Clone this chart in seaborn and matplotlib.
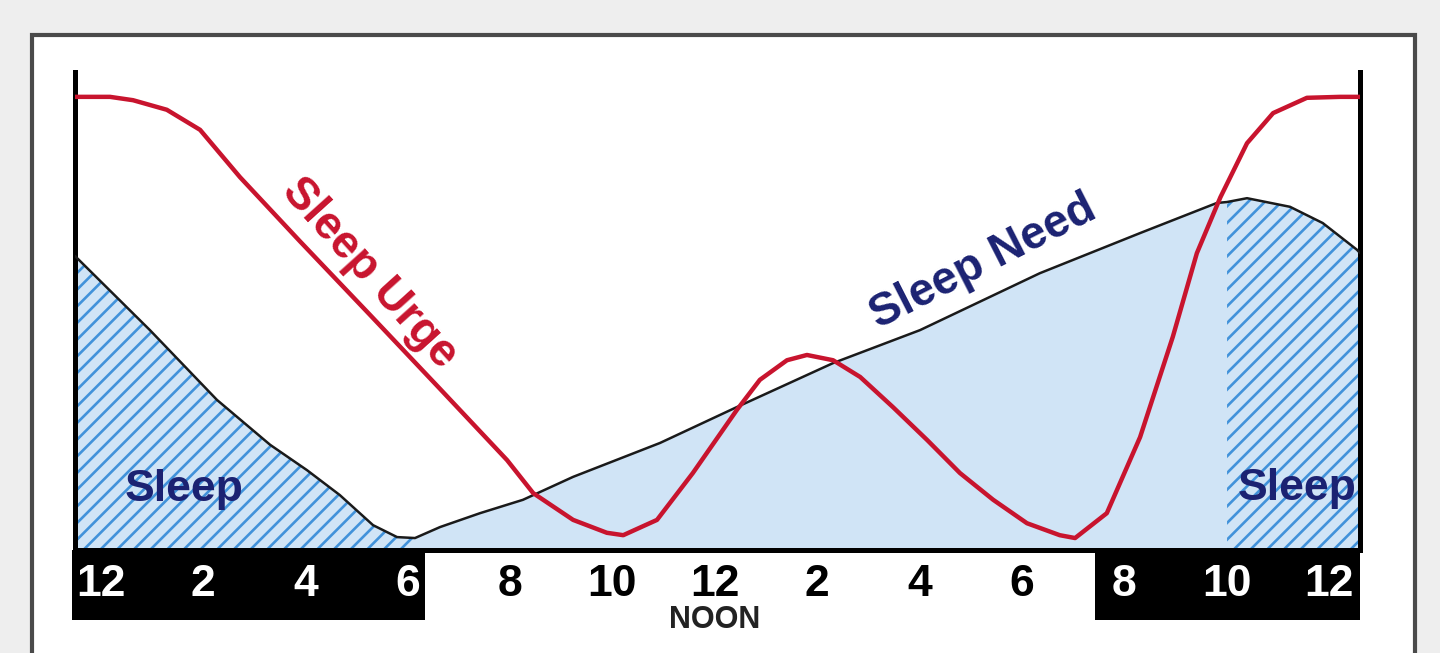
import numpy as np
import matplotlib
matplotlib.use("Agg")
import matplotlib.pyplot as plt
import seaborn as sns
from matplotlib.patches import Rectangle

# data: hours from midnight, level 0-100
urge_h = [-0.504, 0.18, 0.63, 1.29, 1.94, 2.72, 3.89, 5.26, 6.63, 7.94, 8.45, 9.23, 9.89,
          10.21, 10.87, 11.57, 12.43, 12.88, 13.41, 13.80, 14.31, 14.84, 15.48, 16.15,
          16.79, 17.44, 18.10, 18.74, 19.04, 19.66, 20.31, 20.95, 21.42, 21.88, 22.40,
          22.91, 23.57, 24.22, 24.61]
urge_v = [94.8, 94.8, 94.1, 92.1, 87.9, 78.0, 64.6, 49.2, 33.7, 18.8, 11.9, 6.3, 3.6,
          3.1, 6.3, 16.1, 29.3, 35.6, 39.7, 40.8, 39.7, 36.2, 29.9, 23.0,
          16.1, 10.5, 5.6, 3.1, 2.5, 7.7, 23.6, 44.6, 62.1, 73.8, 85.1,
          91.4, 94.6, 94.8, 94.8]

need_h = [-0.504, 0.96, 2.27, 3.31, 4.03, 4.67, 5.32, 5.79, 6.14, 6.63, 7.41, 8.25, 9.23,
          10.93, 12.43, 14.31, 16.01, 18.35, 20.31, 21.81, 22.01, 22.40, 23.24, 23.88,
          24.55, 24.61]
need_v = [61.5, 46.0, 31.4, 22.0, 16.7, 11.5, 5.2, 2.7, 2.5, 4.8, 7.7, 10.5, 15.3,
          22.4, 29.9, 39.1, 46.0, 57.9, 66.3, 72.6, 72.8, 73.6, 71.8, 68.4,
          62.8, 62.1]

tick_hours = [0, 2, 4, 6, 8, 10, 12, 14, 16, 18, 20, 22, 24]
tick_labels = ["12", "2", "4", "6", "8", "10", "12", "2", "4", "6", "8", "10", "12"]
day_start, day_end = 6.34, 19.43        # white part of the time band
sleep_end_am, sleep_start_pm = 6.2, 22.0  # hatched sleep areas

RED = "#c8142e"
NAVY = "#1b2272"
LIGHT = "#d0e4f6"
HATCH = "#4192da"

sns.set_theme(style="white")
plt.rcParams["font.family"] = ["Liberation Sans", "DejaVu Sans"]
plt.rcParams["hatch.linewidth"] = 1.9

W, H = 1440, 653
def fig_rect(x0, y0, x1, y1):
    return [x0 / W, 1 - y1 / H, (x1 - x0) / W, (y1 - y0) / H]

def px_to_h(px):
    return (px - 100.8) / 51.17

fig = plt.figure(figsize=(14.4, 6.53), dpi=100, facecolor="#eeeeee")
fig.add_artist(Rectangle((32 / W, -0.05), (1415 - 32) / W, (H - 35) / H + 0.05,
                         transform=fig.transFigure, facecolor="white",
                         edgecolor="#4a4a4a", lw=3, clip_on=False, zorder=-10))

ax = fig.add_axes(fig_rect(75, 72, 1360, 550))
ax.set_facecolor("none")
ax.set_xlim(px_to_h(75), px_to_h(1360))
ax.set_ylim(0, 100)

h = np.array(need_h)
v = np.array(need_v)
ax.fill_between(h, 0, v, color=LIGHT, lw=0, zorder=1)
for mask in (h <= sleep_end_am, h >= sleep_start_pm):
    ax.fill_between(h[mask], 0, v[mask], facecolor="none", edgecolor=HATCH,
                    hatch="//", lw=0, zorder=2)

ax.text(1.63, 12.6, "Sleep", color=NAVY, fontsize=32, fontweight="bold",
        ha="center", va="center", zorder=3)
ax.text(23.38, 12.8, "Sleep", color=NAVY, fontsize=32, fontweight="bold",
        ha="center", va="center", zorder=3, clip_on=True)

sns.lineplot(x=need_h, y=need_v, ax=ax, color="#1a1a1a", lw=1.8, zorder=4)
sns.lineplot(x=urge_h, y=urge_v, ax=ax, color=RED, lw=3.2, zorder=5)

ax.text(5.26, 57.9, "Sleep Urge", color=RED, fontsize=33,
        fontweight="bold", rotation=-48, ha="center", va="center", zorder=6)
ax.text(17.24, 60.3, "Sleep Need", color=NAVY, fontsize=33,
        fontweight="bold", rotation=27, ha="center", va="center", zorder=6)

ax.spines["top"].set_visible(False)
for side in ("left", "right", "bottom"):
    ax.spines[side].set_color("black")
    ax.spines[side].set_linewidth(3.6)
ax.set_xticks([])
ax.set_yticks([])

# time band
band = fig.add_axes(fig_rect(72, 550, 1360, 620))
band.set_xlim(px_to_h(72), px_to_h(1360))
band.set_ylim(0, 1)
band.axvspan(px_to_h(72), day_start, color="black", lw=0)
band.axvspan(day_end, px_to_h(1360), color="black", lw=0)
for hr, lab in zip(tick_hours, tick_labels):
    col = "black" if day_start < hr < day_end else "white"
    band.text(hr, 0.5, lab, color=col, fontsize=32, fontweight="bold",
              ha="center", va="center")
band.text(12, 0.0, "NOON", color="#222222", fontsize=22, fontweight="bold",
          ha="center", va="center", clip_on=False)
band.set_axis_off()

fig.savefig("out.png", dpi=100, facecolor=fig.get_facecolor())
